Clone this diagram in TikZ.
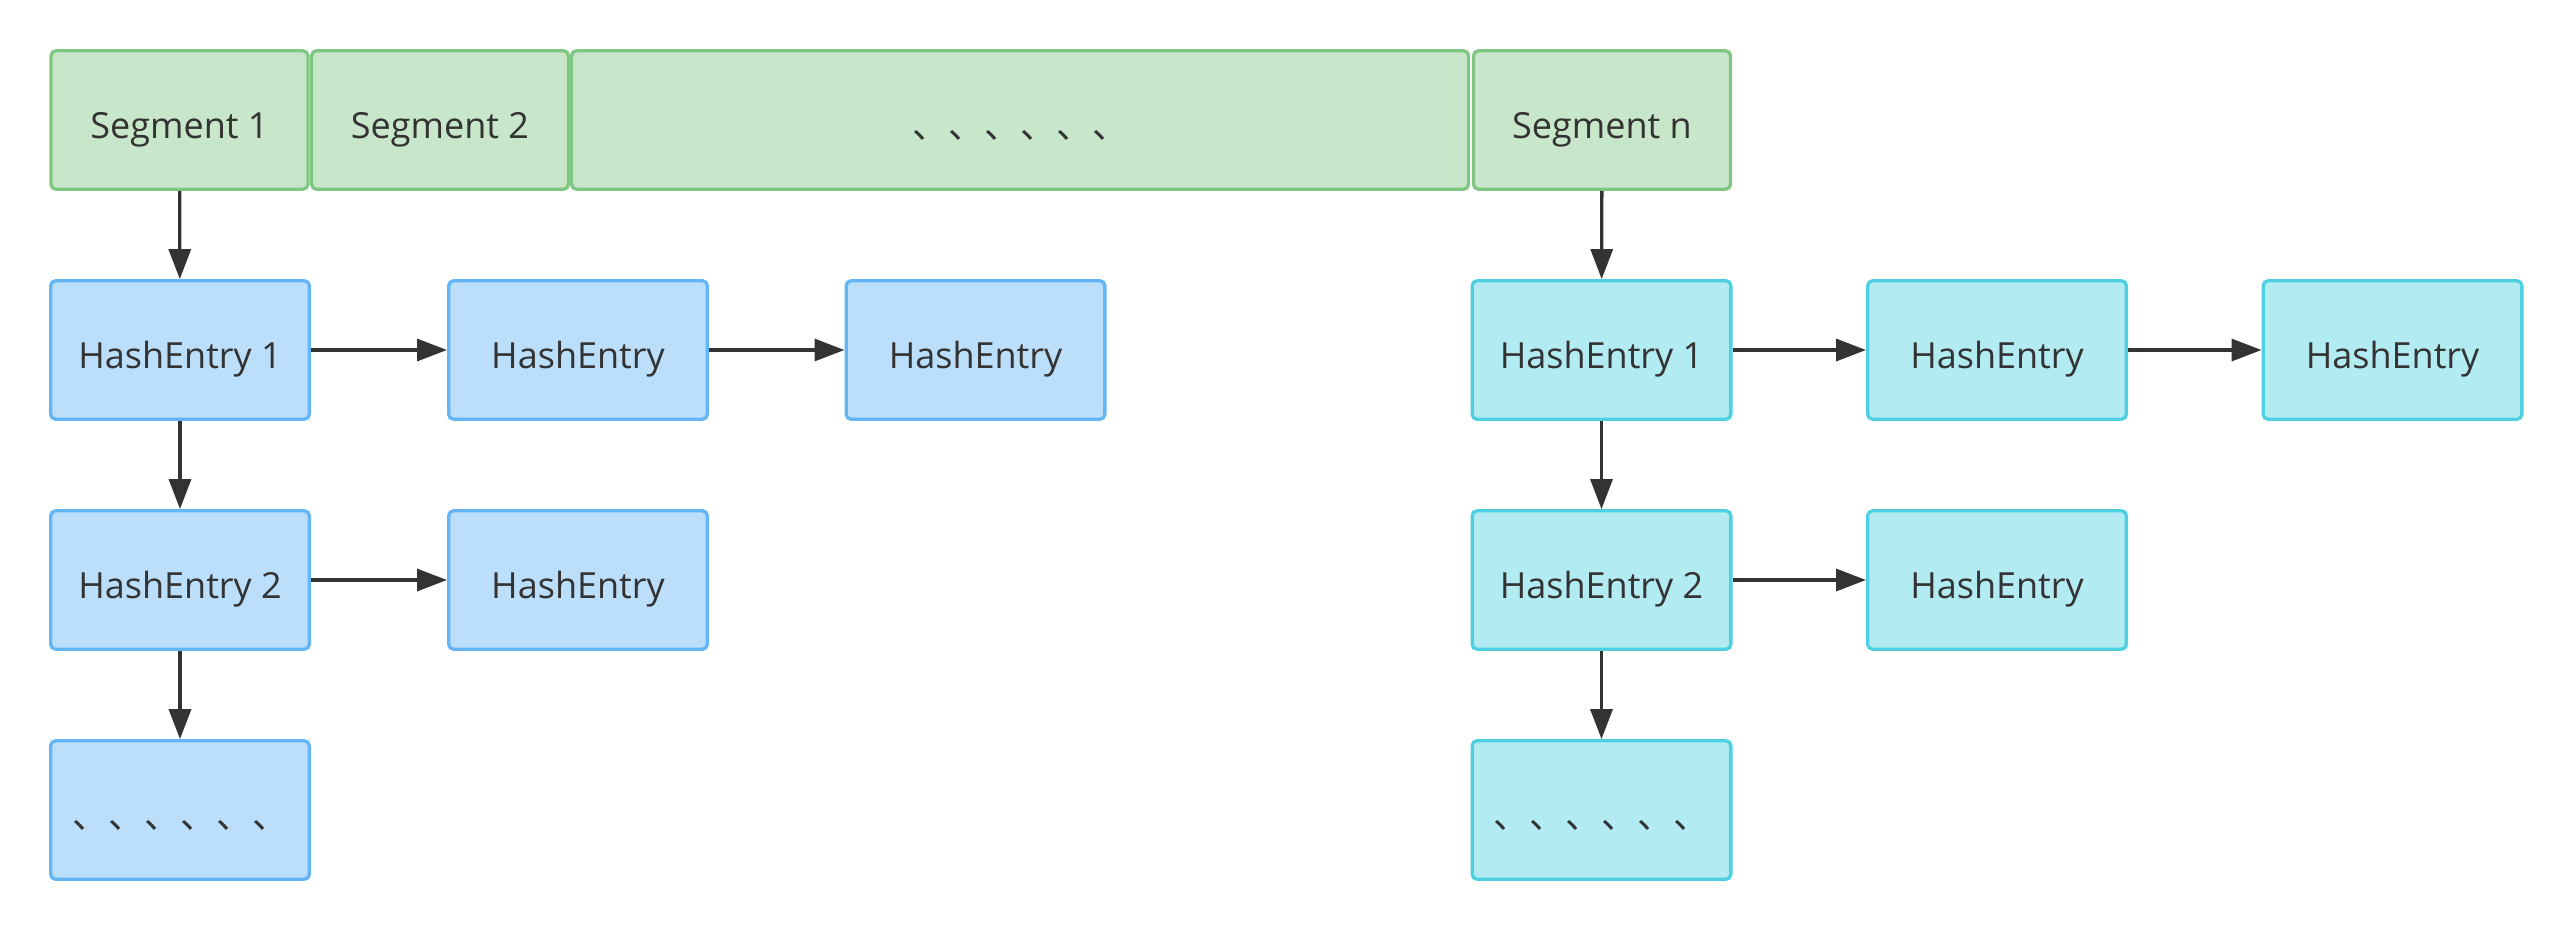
\documentclass[tikz,border=0pt]{standalone}
\usepackage{fontspec}
\setmainfont{Open Sans}
\newfontfamily\cjk{Noto Sans CJK SC}
\usetikzlibrary{arrows.meta}
\definecolor{segfill}{HTML}{C8E6C9}
\definecolor{segline}{HTML}{81C784}
\definecolor{hefill}{HTML}{BBDEFB}
\definecolor{heline}{HTML}{64B5F6}
\definecolor{hcfill}{HTML}{B2EBF2}
\definecolor{hcline}{HTML}{4DD0E1}
\definecolor{txt}{HTML}{333333}
\definecolor{arrc}{HTML}{333333}
\begin{document}
\begin{tikzpicture}[x=1pt,y=-1pt,
  box/.style={draw, rounded corners=5pt, line width=3.3pt, minimum height=138.5pt,
    inner sep=0pt, font=\fontsize{36}{40}\selectfont, text=txt,
    text height=36pt, text depth=0pt},
  seg/.style={box, fill=segfill, draw=segline, minimum width=257pt},
  he/.style={box, fill=hefill, draw=heline, minimum width=258.7pt},
  hc/.style={box, fill=hcfill, draw=hcline, minimum width=258.7pt},
  arr/.style={-{Triangle[length=30pt,width=22pt]}, line width=3.3pt, draw=arrc}]
\useasboundingbox (0,0) rectangle (2573,930);
% segments
\node[seg] (s1) at (179.5,120) {Segment 1};
\node[seg] (s2) at (440,120) {Segment 2};
\node[seg, minimum width=897pt] (sd) at (1020,120) {\cjk 、、、、、、};
\node[seg] (sn) at (1602,120) {Segment n};
% left chains
\node[he] (a1) at (180,350) {HashEntry 1};
\node[he] (b1) at (578,350) {HashEntry};
\node[he] (c1) at (975.5,350) {HashEntry};
\node[he] (a2) at (180,580) {HashEntry 2};
\node[he] (b2) at (578,580) {HashEntry};
\node[he] (a3) at (180,810) {\cjk 、、、、、、};
% right chains
\node[hc] (d1) at (1601.5,350) {HashEntry 1};
\node[hc] (e1) at (1997,350) {HashEntry};
\node[hc] (f1) at (2392.5,350) {HashEntry};
\node[hc] (d2) at (1601.5,580) {HashEntry 2};
\node[hc] (e2) at (1997,580) {HashEntry};
\node[hc] (d3) at (1601.5,810) {\cjk 、、、、、、};
% connectors
\draw[arr] (s1) -- (a1);
\draw[arr] (a1) -- (b1);
\draw[arr] (b1) -- (c1);
\draw[arr] (a1) -- (a2);
\draw[arr] (a2) -- (b2);
\draw[arr] (a2) -- (a3);
\draw[arr] (sn) -- (d1);
\draw[arr] (d1) -- (e1);
\draw[arr] (e1) -- (f1);
\draw[arr] (d1) -- (d2);
\draw[arr] (d2) -- (e2);
\draw[arr] (d2) -- (d3);
\end{tikzpicture}
\end{document}
